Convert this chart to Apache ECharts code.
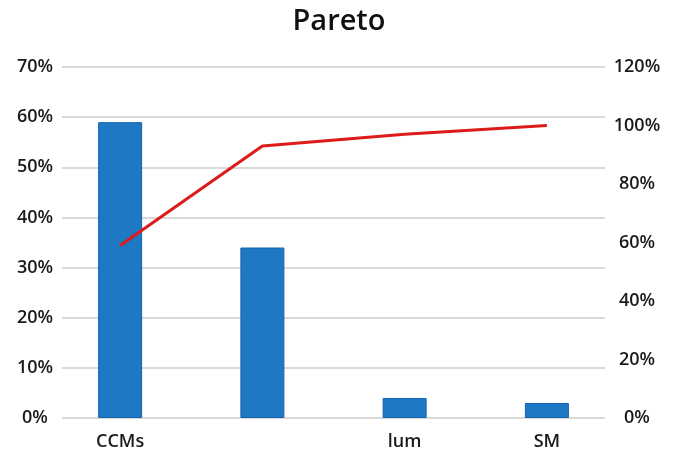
<!DOCTYPE html>
<html>
<head>
<meta charset="utf-8">
<script src="https://cdn.jsdelivr.net/npm/echarts@6/dist/echarts.min.js"></script>
<style>
html,body{margin:0;padding:0;background:#fff;}
#chart{width:678px;height:459px;}
</style>
</head>
<body>
<div id="chart"></div>
<script>
var categories = ['CCMs', '', 'lum', 'SM'];
var shareValues = [59, 34, 4, 3];
var cumulativeValues = [59, 93, 97, 100];
var leftTicks = {min: 0, max: 70, interval: 10};
var rightTicks = {min: 0, max: 120, interval: 20};

var chart = echarts.init(document.getElementById('chart'), null, {renderer: 'canvas'});
var labelFont = {fontFamily: 'Open Sans', fontWeight: 600, fontSize: 18, color: '#1a1a1a'};
var option = {
  animation: false,
  backgroundColor: '#fff',
  title: {
    text: 'Pareto', left: 'center', top: 2,
    textStyle: {fontFamily: 'Open Sans', fontWeight: 600, fontSize: 29, color: '#111'}
  },
  grid: [
    {left: 62, right: 73, top: 67, bottom: 41},
    {left: 49, right: 60, top: 67, bottom: 41}
  ],
  xAxis: [
    {gridIndex: 0, type: 'category', data: categories, show: false},
    {gridIndex: 1, type: 'category', data: categories,
     axisLine: {show: false}, axisTick: {show: false},
     axisLabel: Object.assign({margin: 15}, labelFont)}
  ],
  yAxis: [
    {gridIndex: 0, type: 'value', position: 'left', min: leftTicks.min, max: leftTicks.max, interval: leftTicks.interval,
     axisLine: {show: false}, axisTick: {show: false},
     splitLine: {show: true, lineStyle: {color: '#d9d9d9', width: 2}},
     axisLabel: Object.assign({margin: 27, align: 'center', formatter: '{value}%'}, labelFont)},
    {gridIndex: 0, type: 'value', position: 'right', min: rightTicks.min, max: rightTicks.max, interval: rightTicks.interval,
     axisLine: {show: false}, axisTick: {show: false}, splitLine: {show: false},
     axisLabel: Object.assign({margin: 32, align: 'center', formatter: '{value}%'}, labelFont)},
    {gridIndex: 1, type: 'value', min: leftTicks.min, max: leftTicks.max, show: false},
    {gridIndex: 1, type: 'value', min: rightTicks.min, max: rightTicks.max, show: false}
  ],
  series: [
    {type: 'bar', xAxisIndex: 1, yAxisIndex: 2, data: shareValues, barWidth: 44,
     itemStyle: {color: '#1f78c4', borderColor: '#1462b0', borderWidth: 1}},
    {type: 'line', xAxisIndex: 1, yAxisIndex: 3, data: cumulativeValues, symbol: 'none',
     lineStyle: {color: '#dd1c1a', width: 3}}
  ]
};
chart.setOption(option);
</script>
</body>
</html>
